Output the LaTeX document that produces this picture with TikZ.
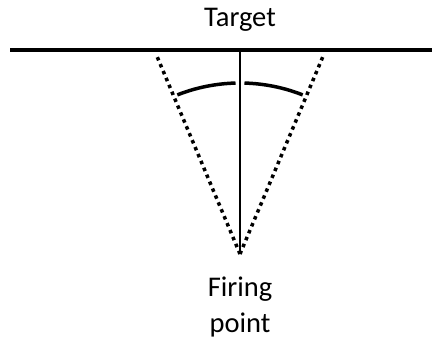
\documentclass[tikz,border=0pt]{standalone}
\usepackage{fontspec}
\setmainfont{Carlito}
\begin{document}
\begin{tikzpicture}[x=1pt,y=1pt,
  label/.style={inner sep=0pt, font=\fontsize{28.5}{36}\selectfont, align=center},
  baseline/.style={line width=3.5pt},
  axisline/.style={line width=2.5pt},
  sideline/.style={line width=3.5pt, dash pattern=on 3.5pt off 4pt},
  arcline/.style={line width=3.5pt}]
\useasboundingbox (0,0) rectangle (432,340);
\coordinate (apex) at (240,86);
\coordinate (tl) at (10,290);
\coordinate (tr) at (432,290);
\coordinate (top) at (240,290);
\coordinate (dl) at (156,286);
\coordinate (dr) at (324,286);
\node[label, anchor=base] (target) at (240,313) {Target};
\node[label, anchor=base] (fire) at (240,7) {Firing\\point};
\draw[baseline] (tl) -- (tr);
\draw[axisline] (apex) -- (top);
\draw[sideline] (apex) -- (dl);
\draw[sideline] (apex) -- (dr);
\draw[arcline] ([shift={(91.5:171)}]apex) arc[start angle=91.5, end angle=111.5, radius=171];
\draw[arcline] ([shift={(88.5:171)}]apex) arc[start angle=88.5, end angle=68.5, radius=171];
\end{tikzpicture}
\end{document}
